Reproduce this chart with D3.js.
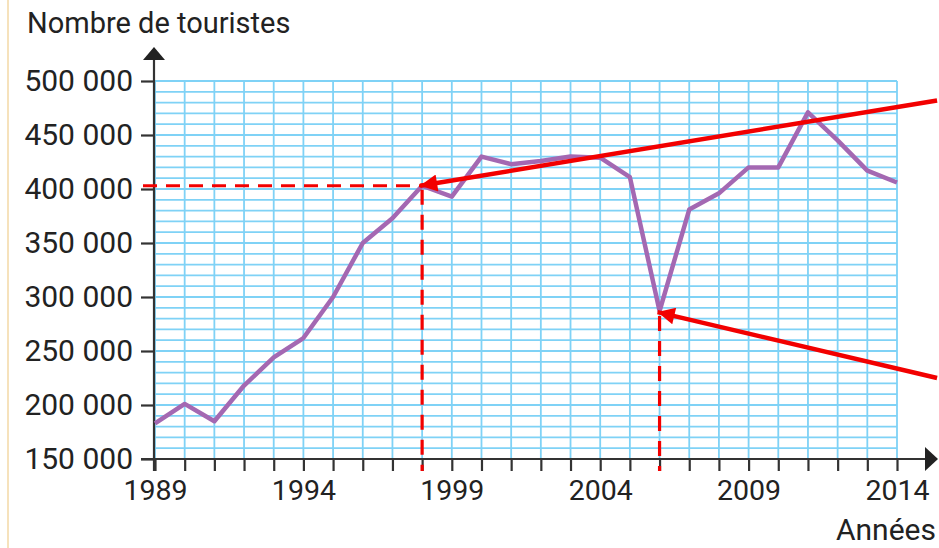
<!DOCTYPE html>
<html>
<head>
<meta charset="utf-8">
<script src="https://cdn.jsdelivr.net/npm/d3@7"></script>
<style>
  body { margin: 0; background: #fff; }
  svg { display: block; font-family: Roboto, "Open Sans", sans-serif; }
</style>
</head>
<body>
<svg width="939" height="548"></svg>
<script>
// data
const years = [1989, 1990, 1991, 1992, 1993, 1994, 1995, 1996, 1997, 1998, 1999, 2000, 2001,
  2002, 2003, 2004, 2005, 2006, 2007, 2008, 2009, 2010, 2011, 2012, 2013, 2014];
const tourists = [183000, 201000, 185000, 218000, 244000, 262000, 300000, 350000, 373000, 403000,
  393000, 430000, 423000, 426000, 430000, 429000, 411000, 287000, 381000, 396000, 420000, 420000,
  471000, 445000, 417000, 406000];
const yTicks = [150000, 200000, 250000, 300000, 350000, 400000, 450000, 500000];
const xTickLabels = [1989, 1994, 1999, 2004, 2009, 2014];

// red reading guides: point read on the curve, and where the arrow comes from
const guides = [
  { year: 1998, value: 403000, fromYear: 2015.35, fromValue: 482000 },
  { year: 2006, value: 286000, fromYear: 2015.35, fromValue: 225000 }
];

const margin = { top: 81, left: 155 };
const width = 742, height = 378;

const svg = d3.select("svg");

// page edge
svg.append("line")
  .attr("x1", 8).attr("x2", 8).attr("y1", 0).attr("y2", 548)
  .attr("stroke", "#f3d9a6").attr("stroke-width", 1.5);

const g = svg.append("g").attr("transform", `translate(${margin.left},${margin.top})`);

const x = d3.scaleLinear().domain([1989, 2014]).range([0, width]);
const y = d3.scaleLinear().domain([150000, 500000]).range([height, 0]);

// grid
const gridColor = "#7fd2f6";
g.append("g").selectAll("line")
  .data(d3.range(1989, 2015))
  .join("line")
  .attr("x1", d => x(d)).attr("x2", d => x(d))
  .attr("y1", 0).attr("y2", height)
  .attr("stroke", gridColor).attr("stroke-width", 1.8);
g.append("g").selectAll("line")
  .data(d3.range(160000, 500001, 10000))
  .join("line")
  .attr("x1", 0).attr("x2", width)
  .attr("y1", d => y(d)).attr("y2", d => y(d))
  .attr("stroke", gridColor).attr("stroke-width", 1.8);

// axes
const axisColor = "#333";
const yAxis = g.append("g")
  .call(d3.axisLeft(y).tickValues(yTicks).tickSize(14).tickPadding(8)
    .tickFormat(d => d3.format(",")(d).replace(",", " ")));
const xAxis = g.append("g")
  .attr("transform", `translate(0,${height})`)
  .call(d3.axisBottom(x).tickValues(d3.range(1989, 2015)).tickSize(12).tickPadding(9)
    .tickFormat(d => xTickLabels.includes(d) ? d : ""));

[yAxis, xAxis].forEach(a => {
  a.select(".domain").remove();
  a.selectAll(".tick line").attr("stroke", axisColor).attr("stroke-width", 2.2);
  a.selectAll("text").attr("fill", "#222")
    .attr("font-family", "Roboto, sans-serif");
});
yAxis.selectAll("text").attr("font-size", 30);
xAxis.selectAll("text").attr("font-size", 28.5);

// axis lines with arrow heads
g.append("line")
  .attr("x1", -1).attr("x2", -1).attr("y1", height + 12).attr("y2", -22)
  .attr("stroke", axisColor).attr("stroke-width", 2.2);
g.append("path")
  .attr("d", `M${-12},-21 L${-1},-34 L${10},-21 Z`)
  .attr("fill", "#222");
g.append("line")
  .attr("x1", -14).attr("x2", width + 29).attr("y1", height).attr("y2", height)
  .attr("stroke", axisColor).attr("stroke-width", 2.2);
g.append("path")
  .attr("d", `M${width + 28},${height - 12} L${width + 41},${height} L${width + 28},${height + 12} Z`)
  .attr("fill", "#222");

// tourists line
const line = d3.line()
  .x((d, i) => x(years[i]))
  .y(d => y(d));
g.append("path")
  .datum(tourists)
  .attr("d", line)
  .attr("fill", "none")
  .attr("stroke", "#a468b2")
  .attr("stroke-width", 4.5)
  .attr("stroke-linejoin", "round");

// red guides
const red = "#f20000";
svg.append("defs").append("marker")
  .attr("id", "head")
  .attr("viewBox", "0 0 10 10")
  .attr("refX", 10).attr("refY", 5)
  .attr("markerWidth", 4.4).attr("markerHeight", 3.8)
  .attr("markerUnits", "strokeWidth")
  .attr("orient", "auto")
  .append("path").attr("d", "M0,0 L10,5 L0,10 Z").attr("fill", red);

const gg = g.append("g");
gg.selectAll(".hdash")
  .data(guides.filter(d => d.year === 1998))
  .join("line")
  .attr("x1", -12).attr("x2", d => x(d.year))
  .attr("y1", d => y(d.value)).attr("y2", d => y(d.value))
  .attr("stroke", red).attr("stroke-width", 3.2).attr("stroke-dasharray", "14,9");
gg.selectAll(".vdash")
  .data(guides)
  .join("line")
  .attr("x1", d => x(d.year)).attr("x2", d => x(d.year))
  .attr("y1", d => y(d.value) + 4).attr("y2", height + 12)
  .attr("stroke", red).attr("stroke-width", 3.2).attr("stroke-dasharray", "15,10");
gg.selectAll(".arrow")
  .data(guides)
  .join("line")
  .attr("x1", d => x(d.fromYear)).attr("y1", d => y(d.fromValue))
  .attr("x2", d => x(d.year) - 2).attr("y2", d => y(d.value))
  .attr("stroke", red).attr("stroke-width", 4.5)
  .attr("marker-end", "url(#head)");

// titles
svg.append("text")
  .attr("x", 27).attr("y", 33)
  .attr("font-size", 29).attr("fill", "#222")
  .text("Nombre de touristes");
svg.append("text")
  .attr("x", 936).attr("y", 540)
  .attr("text-anchor", "end")
  .attr("font-size", 30).attr("fill", "#222")
  .text("Années");
</script>
</body>
</html>
